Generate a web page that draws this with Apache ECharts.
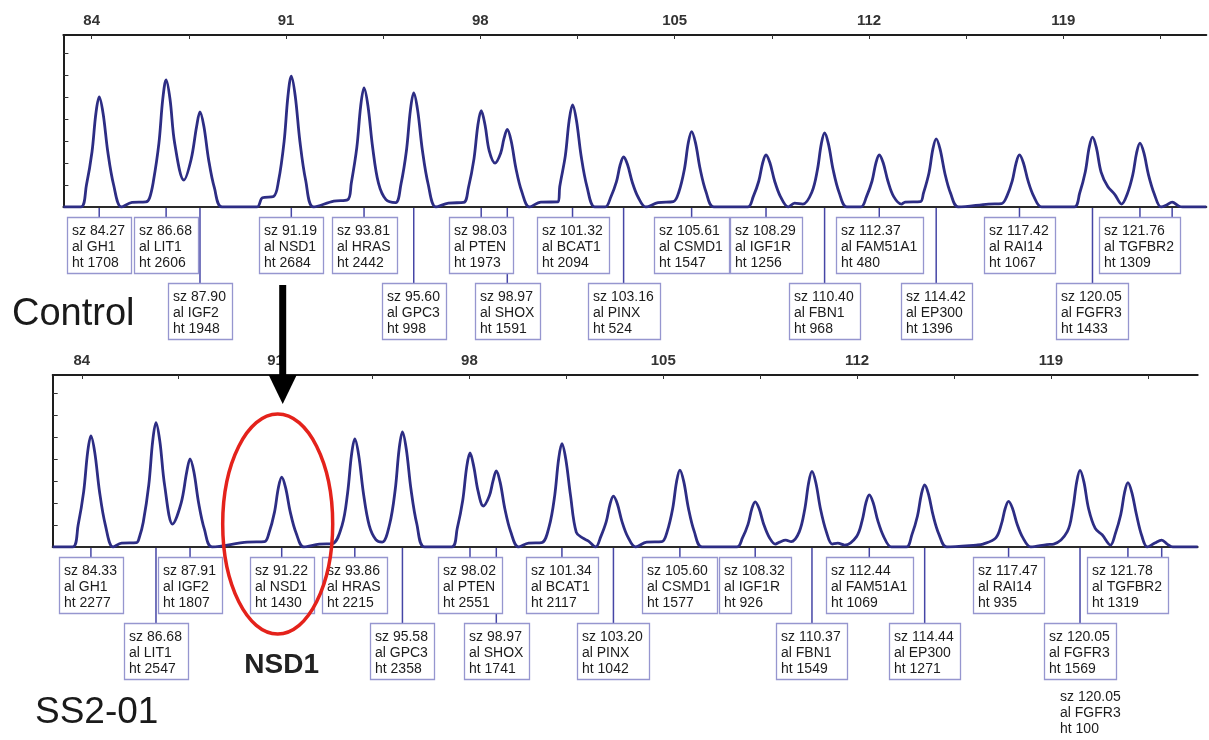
<!DOCTYPE html>
<html>
<head>
<meta charset="utf-8">
<script src="https://cdn.jsdelivr.net/npm/echarts@6/dist/echarts.min.js"></script>
<style>
  html, body { margin: 0; padding: 0; background: #ffffff; }
  #chart { width: 1209px; height: 740px; }
</style>
</head>
<body>
<div id="chart"></div>
<script>
// ---- Fragment-size axis (bp) ----
const sizeTickLabels = [84, 91, 98, 105, 112, 119];
const sizeTickMarks = [84, 87.5, 91, 94.5, 98, 101.5, 105, 108.5, 112, 115.5, 119, 122.5];
const rfuTickMarks = [450, 900, 1350, 1800, 2250, 2700, 3150];

// ---- Control sample: called peaks ----
const ctrlSize = [84.27, 86.68, 87.90, 91.19, 93.81, 95.60, 98.03, 98.97, 101.32, 103.16, 105.61, 108.29, 110.40, 112.37, 114.42, 117.42, 120.05, 121.76];
const ctrlAllele = ['GH1', 'LIT1', 'IGF2', 'NSD1', 'HRAS', 'GPC3', 'PTEN', 'SHOX', 'BCAT1', 'PINX', 'CSMD1', 'IGF1R', 'FBN1', 'FAM51A1', 'EP300', 'RAI14', 'FGFR3', 'TGFBR2'];
const ctrlHeight = [1708, 2606, 1948, 2684, 2442, 998, 1973, 1591, 2094, 524, 1547, 1256, 968, 480, 1396, 1067, 1433, 1309];
const ctrlMinorPeaks = [122.92];

// ---- Control sample: electropherogram trace [size bp, RFU] ----
const ctrlTrace = [
  [82.98,0],[83.61,0],[83.81,451],[84.01,1128],[84.15,1917],[84.27,2255],[84.41,1917],[84.58,1128],[84.79,451],[85.07,0],
  [85.45,95],[85.95,105],
  [86.08,180],[86.22,521],[86.42,1303],[86.56,2215],[86.68,2606],[86.82,2215],[86.99,1303],
  [87.32,553],
  [87.58,974],[87.78,1656],[87.90,1948],[88.04,1656],[88.21,974],[88.42,390],[88.70,0],
  [89.95,0],[90.15,190],[90.55,215],
  [90.73,537],[90.93,1342],[91.07,2281],[91.19,2684],[91.33,2281],[91.50,1342],[91.71,537],[91.99,0],
  [92.72,120],[93.22,150],
  [93.35,488],[93.55,1221],[93.69,2076],[93.81,2442],[93.95,2076],[94.12,1221],[94.33,488],[94.60,150],
  [94.95,90],
  [95.14,467],[95.34,1169],[95.48,1986],[95.60,2337],[95.74,1986],[95.91,1169],[96.12,467],[96.40,0],
  [96.85,80],[97.40,95],
  [97.57,395],[97.77,987],[97.91,1677],[98.03,1973],[98.17,1677],[98.32,1150],
  [98.53,900],
  [98.73,1100],[98.85,1400],[98.97,1591],[99.11,1352],[99.28,796],[99.49,318],[99.77,0],
  [100.18,100],[100.80,105],
  [100.86,419],[101.06,1047],[101.20,1780],[101.32,2094],[101.46,1780],[101.63,1047],[101.84,419],[102.12,0],
  [102.50,0],[102.70,205],[102.90,513],[103.04,871],[103.16,1025],[103.30,871],[103.47,513],[103.68,205],[103.96,0],
  [104.40,90],[104.95,110],
  [105.15,309],[105.35,774],[105.49,1315],[105.61,1547],[105.75,1315],[105.92,774],[106.13,309],[106.41,0],
  [107.63,0],[107.83,213],[108.03,533],[108.17,906],[108.29,1066],[108.43,906],[108.60,533],[108.81,213],[109.09,0],
  [109.32,80],[109.62,60],
  [109.94,303],[110.14,759],[110.28,1289],[110.40,1517],[110.54,1289],[110.71,759],[110.92,303],[111.20,0],
  [111.71,0],[111.91,213],[112.11,533],[112.25,906],[112.37,1066],[112.51,906],[112.68,533],[112.89,213],[113.17,60],
  [113.30,100],[113.85,110],
  [113.96,279],[114.16,698],[114.30,1187],[114.42,1396],[114.56,1187],[114.73,698],[114.94,279],[115.22,0],
  [116.30,60],[116.78,70],
  [116.96,213],[117.16,534],[117.30,907],[117.42,1067],[117.56,907],[117.73,534],[117.94,213],[118.22,0],
  [119.39,0],[119.59,287],[119.79,717],[119.93,1218],[120.05,1433],[120.19,1218],[120.36,717],[120.60,420],[120.85,260],[121.10,60],
  [121.30,262],[121.50,655],[121.64,1113],[121.76,1309],[121.90,1113],[122.07,655],[122.28,262],[122.52,0],
  [122.72,40],[122.92,100],[123.15,20],[123.30,0],
  [124.15,0]
];

// ---- Patient SS2-01: called peaks ----
const ptSize = [84.33, 86.68, 87.91, 91.22, 93.86, 95.58, 98.02, 98.97, 101.34, 103.20, 105.60, 108.32, 110.37, 112.44, 114.44, 117.47, 120.05, 121.78, 120.05];
const ptAllele = ['GH1', 'LIT1', 'IGF2', 'NSD1', 'HRAS', 'GPC3', 'PTEN', 'SHOX', 'BCAT1', 'PINX', 'CSMD1', 'IGF1R', 'FBN1', 'FAM51A1', 'EP300', 'RAI14', 'FGFR3', 'TGFBR2', 'FGFR3'];
const ptHeight = [2277, 2547, 1807, 1430, 2215, 2358, 2551, 1741, 2117, 1042, 1577, 926, 1549, 1069, 1271, 935, 1569, 1319, 100];
const ptMinorPeaks = [123.0];

// ---- Patient SS2-01: electropherogram trace [size bp, RFU] ----
const ptTrace = [
  [82.95,0],[83.67,0],[83.87,455],[84.07,1139],[84.21,1935],[84.33,2277],[84.47,1935],[84.64,1139],[84.85,455],[85.13,0],
  [85.44,80],[85.98,90],
  [86.08,200],[86.22,509],[86.42,1274],[86.56,2165],[86.68,2547],[86.82,2165],[86.99,1274],
  [87.28,470],
  [87.59,904],[87.79,1536],[87.91,1807],[88.05,1536],[88.22,904],[88.43,361],[88.71,0],
  [89.98,100],[90.60,110],
  [90.76,286],[90.96,715],[91.10,1216],[91.22,1430],[91.36,1216],[91.53,715],[91.74,286],[92.02,0],
  [92.58,60],[93.05,70],
  [93.40,443],[93.60,1108],[93.74,1883],[93.86,2215],[94.00,1883],[94.17,1108],[94.38,443],[94.62,150],
  [94.85,100],
  [95.12,472],[95.32,1179],[95.46,2004],[95.58,2358],[95.72,2004],[95.89,1179],[96.10,472],[96.38,0],
  [97.36,0],[97.56,385],[97.76,964],[97.90,1638],[98.02,1927],[98.16,1638],[98.31,1150],
  [98.50,840],
  [98.72,1050],[98.85,1350],[98.97,1558],[99.11,1324],[99.28,779],[99.49,312],[99.77,0],
  [100.14,80],[100.61,90],
  [100.88,423],[101.08,1059],[101.22,1799],[101.34,2117],[101.48,1799],[101.65,1059],[101.86,300],[102.10,180],[102.30,120],[102.56,0],
  [102.74,208],[102.94,521],[103.08,886],[103.20,1042],[103.34,886],[103.51,521],[103.72,208],[104.00,0],
  [104.40,100],[104.95,110],
  [105.14,315],[105.34,789],[105.48,1340],[105.60,1577],[105.74,1340],[105.91,789],[106.12,315],[106.40,0],
  [107.66,0],[107.86,185],[108.06,463],[108.20,787],[108.32,926],[108.46,787],[108.63,463],[108.84,185],[109.05,60],
  [109.20,100],[109.42,140],[109.62,110],
  [109.91,310],[110.11,775],[110.25,1317],[110.37,1549],[110.51,1317],[110.68,775],[110.89,310],[111.10,60],
  [111.30,80],[111.55,40],
  [111.98,214],[112.18,535],[112.32,909],[112.44,1069],[112.58,909],[112.75,535],[112.96,214],[113.24,0],
  [113.78,0],[113.98,254],[114.18,636],[114.32,1080],[114.44,1271],[114.58,1080],[114.75,636],[114.96,254],[115.24,0],
  [116.30,40],[116.55,60],
  [117.01,187],[117.21,468],[117.35,795],[117.47,935],[117.61,795],[117.78,468],[117.99,187],[118.27,0],
  [118.85,50],[119.10,60],
  [119.59,314],[119.79,785],[119.93,1334],[120.05,1569],[120.19,1334],[120.36,785],[120.60,380],[120.85,250],[121.15,40],
  [121.32,264],[121.52,660],[121.66,1121],[121.78,1319],[121.92,1121],[122.09,660],[122.28,230],[122.48,0],
  [122.75,80],[123.00,140],[123.20,60],[123.40,0],
  [124.30,0]
];

// ---- Label-box layout: which row under the baseline each call sits in ----
const ctrlRows = [1, 1, 2, 1, 1, 2, 1, 2, 1, 2, 1, 1, 2, 1, 2, 1, 2, 1];
const ptRows = [1, 2, 1, 1, 1, 2, 1, 2, 1, 2, 1, 1, 2, 1, 2, 1, 2, 1, 3];
const rowOffset = { 1: 10, 2: 76, 3: 136 };
const BOX_H = 56;
const LABEL_FONT = '14px "Liberation Sans", Arial, sans-serif';
const TRACE_COLOR = '#2d2d84';
const CONNECT_COLOR = '#4646a6';
const BOX_COLOR = '#9696cf';

const measureCtx = document.createElement('canvas').getContext('2d');
measureCtx.font = LABEL_FONT;
const textWidth = s => measureCtx.measureText(s).width;

function labelLines(sizes, alleles, heights, i) {
  return ['sz ' + sizes[i].toFixed(2), 'al ' + alleles[i], 'ht ' + heights[i]];
}

// Peak-call annotation boxes hanging below the baseline
function labelSeries(xIdx, yIdx, sizes, alleles, heights, rows) {
  return {
    type: 'custom',
    xAxisIndex: xIdx,
    yAxisIndex: yIdx,
    clip: false,
    silent: true,
    data: sizes.map((s, i) => [s, 0, i]),
    renderItem(params, api) {
      const i = params.dataIndex;
      const base = api.coord([sizes[i], 0]);
      const lines = labelLines(sizes, alleles, heights, i);
      const w = Math.round(Math.max.apply(null, lines.map(textWidth)) + 11);
      const row = rows[i];
      const top = Math.round(base[1] + rowOffset[row]);
      const boxed = row !== 3;
      const left = Math.round(base[0] - w / 2) + (boxed ? 0 : 11);
      const children = [];
      if (boxed) {
        children.push({
          type: 'line', z2: 1,
          shape: { x1: base[0], y1: base[1] + 1, x2: base[0], y2: top },
          style: { stroke: CONNECT_COLOR, lineWidth: 1.5 }
        });
        children.push({
          type: 'rect', z2: 5,
          shape: { x: left + 0.5, y: top + 0.5, width: w, height: BOX_H },
          style: { fill: '#ffffff', stroke: BOX_COLOR, lineWidth: 1.3 }
        });
      }
      children.push({
        type: 'text', z2: 6,
        x: left + 5, y: top + 6,
        style: {
          text: lines.join('\n'),
          font: LABEL_FONT,
          fill: '#1c1c1c',
          lineHeight: 16,
          verticalAlign: 'top',
          align: 'left'
        }
      });
      return { type: 'group', children };
    }
  };
}

// Short connectors from small uncalled peaks into the neighbouring box
function minorSeries(xIdx, yIdx, sizes) {
  return {
    type: 'custom',
    xAxisIndex: xIdx,
    yAxisIndex: yIdx,
    clip: false,
    silent: true,
    data: sizes.map(s => [s, 0]),
    renderItem(params, api) {
      const base = api.coord([sizes[params.dataIndex], 0]);
      return {
        type: 'line', z2: 1,
        shape: { x1: base[0], y1: base[1] + 1, x2: base[0], y2: base[1] + rowOffset[1] },
        style: { stroke: CONNECT_COLOR, lineWidth: 1.5 }
      };
    }
  };
}

function sizeAxis(grid, min, max) {
  return {
    type: 'value', gridIndex: grid, position: 'top', min, max,
    axisLine: { show: true, onZero: false, lineStyle: { color: '#1e1e1e', width: 2 } },
    axisTick: { show: true, inside: true, length: 4, customValues: sizeTickMarks, lineStyle: { color: '#333', width: 1 } },
    axisLabel: { show: true, customValues: sizeTickLabels, margin: 7, color: '#333', fontSize: 15, fontWeight: 'bold', fontFamily: 'Liberation Sans' },
    splitLine: { show: false }
  };
}
function baselineAxis(grid, min, max) {
  return {
    type: 'value', gridIndex: grid, position: 'bottom', min, max,
    axisLine: { show: true, onZero: false, lineStyle: { color: '#2a2a2a', width: 2 } },
    axisTick: { show: false }, axisLabel: { show: false }, splitLine: { show: false }
  };
}
function rfuAxis(grid) {
  return {
    type: 'value', gridIndex: grid, min: 0, max: 3526,
    axisLine: { show: true, onZero: false, lineStyle: { color: '#1e1e1e', width: 2 } },
    axisTick: { show: true, inside: true, length: 5, customValues: rfuTickMarks, lineStyle: { color: '#333', width: 1 } },
    axisLabel: { show: false }, splitLine: { show: false }
  };
}
function traceSeries(xIdx, yIdx, data) {
  return {
    type: 'line', xAxisIndex: xIdx, yAxisIndex: yIdx, data,
    smooth: 0.35, showSymbol: false, silent: true, z: 3,
    lineStyle: { color: TRACE_COLOR, width: 2.8 }
  };
}

const chart = echarts.init(document.getElementById('chart'), null, { renderer: 'canvas' });
chart.setOption({
  animation: false,
  backgroundColor: '#ffffff',
  grid: [
    { left: 63.4, top: 35, width: 1142.9, height: 172 },
    { left: 52.7, top: 375, width: 1145, height: 172 }
  ],
  xAxis: [
    sizeAxis(0, 82.98, 124.15), baselineAxis(0, 82.98, 124.15),
    sizeAxis(1, 82.95, 124.3), baselineAxis(1, 82.95, 124.3)
  ],
  yAxis: [rfuAxis(0), rfuAxis(1)],
  series: [
    traceSeries(0, 0, ctrlTrace),
    labelSeries(0, 0, ctrlSize, ctrlAllele, ctrlHeight, ctrlRows),
    minorSeries(0, 0, ctrlMinorPeaks),
    traceSeries(2, 1, ptTrace),
    labelSeries(2, 1, ptSize, ptAllele, ptHeight, ptRows),
    minorSeries(2, 1, ptMinorPeaks)
  ]
});

// Sample names, and the arrow / ring marking the reduced NSD1 peak
const nsdX = chart.convertToPixel({ xAxisIndex: 2 }, ptSize[3]);
chart.setOption({
  graphic: [
    { type: 'text', z: 100, left: 12, top: 296,
      style: { text: 'Control', font: '38px "Liberation Sans", Arial, sans-serif', fill: '#1a1a1a' } },
    { type: 'text', z: 100, left: 35, top: 694,
      style: { text: 'SS2-01', font: '37px "Liberation Sans", Arial, sans-serif', fill: '#1a1a1a' } },
    { type: 'text', z: 100, x: nsdX, y: 665,
      style: { text: 'NSD1', font: 'bold 28px "Liberation Sans", Arial, sans-serif', fill: '#222', align: 'center', verticalAlign: 'middle' } },
    { type: 'rect', z: 100, shape: { x: nsdX - 2.5, y: 285, width: 7, height: 92 }, style: { fill: '#000' } },
    { type: 'polygon', z: 100, shape: { points: [[nsdX - 13, 375], [nsdX + 15, 375], [nsdX + 1, 404]] }, style: { fill: '#000' } },
    { type: 'ellipse', z: 100, shape: { cx: nsdX - 4, cy: 524, rx: 55, ry: 110 },
      style: { fill: null, stroke: '#e4221b', lineWidth: 3.5 } }
  ]
});
</script>
</body>
</html>
